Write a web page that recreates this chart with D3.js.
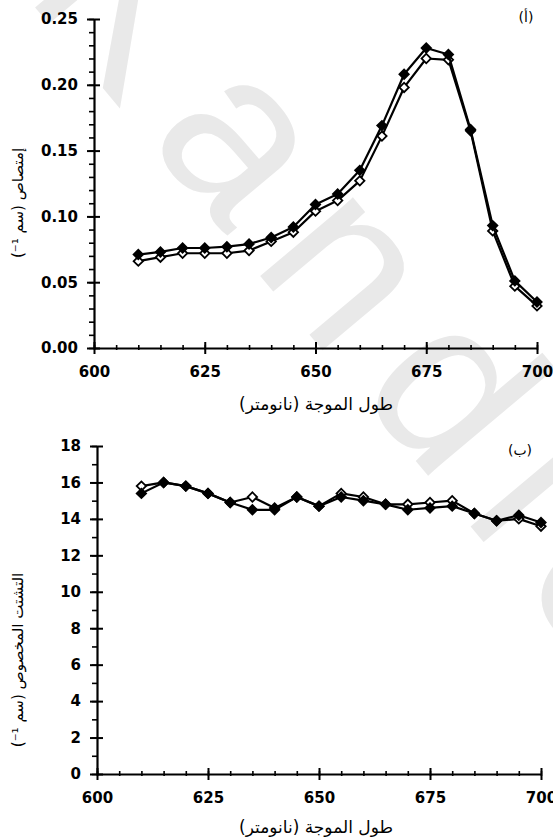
<!DOCTYPE html>
<html>
<head>
<meta charset="utf-8">
<script src="https://cdn.jsdelivr.net/npm/d3@7"></script>
<style>
  body { margin: 0; background: #fff; }
  svg { display: block; }
</style>
</head>
<body>
<svg id="fig" width="553" height="837"></svg>
<script>
// Wavelength of each measurement (nm)
const wavelengths = [610, 615, 620, 625, 630, 635, 640, 645, 650, 655, 660, 665, 670, 675, 680, 685, 690, 695, 700];

// Panel (أ): absorption coefficient (cm^-1)
const absorptionFilled = [0.071, 0.073, 0.076, 0.076, 0.077, 0.079, 0.084, 0.092, 0.109, 0.117, 0.135, 0.169, 0.208, 0.228, 0.223, 0.166, 0.093, 0.051, 0.035];
const absorptionOpen   = [0.066, 0.069, 0.072, 0.072, 0.072, 0.074, 0.081, 0.088, 0.104, 0.112, 0.127, 0.161, 0.198, 0.220, 0.219, 0.165, 0.089, 0.047, 0.032];

// Panel (ب): specific scattering (cm^-1)
const scatteringFilled = [15.4, 16.0, 15.8, 15.4, 14.9, 14.5, 14.5, 15.2, 14.7, 15.2, 15.0, 14.8, 14.5, 14.6, 14.7, 14.3, 13.9, 14.2, 13.8];
const scatteringOpen   = [15.8, 16.0, 15.8, 15.4, 14.9, 15.2, 14.6, 15.2, 14.7, 15.4, 15.2, 14.8, 14.8, 14.9, 15.0, 14.3, 13.9, 14.0, 13.6];

// Axis ticks
const xTicks = [600, 625, 650, 675, 700];
const xMinorTicks = d3.range(600, 701, 5);
const absorptionTicks = [0, 0.05, 0.10, 0.15, 0.20, 0.25];
const absorptionMinorTicks = d3.range(0, 0.2501, 0.01);
const scatteringTicks = [0, 2, 4, 6, 8, 10, 12, 14, 16, 18];
const scatteringMinorTicks = d3.range(0, 18.01, 1);

// Text
const xTitle = "طول الموجة (نانومتر)";
const absorptionTitle = "إمتصاص (سم \u2066\u207B\u00B9\u2069)";
const scatteringTitle = "التشتت المخصوص (سم \u2066\u207B\u00B9\u2069)";
const watermark = "Kandic";

const svg = d3.select("#fig");

// Light background watermark lettering
svg.append("text")
  .attr("transform", "translate(23,-7) rotate(50)")
  .attr("font-family", "Liberation Sans, Arial, sans-serif")
  .attr("font-size", 230)
  .attr("letter-spacing", 36)
  .attr("fill", "#e9e9e9")
  .text(watermark);

const numFont = "DejaVu Sans, Verdana, sans-serif";
const arabicFont = "DejaVu Sans, Noto Sans, sans-serif";

function drawPanel(cfg) {
  const x = d3.scaleLinear().domain([600, 700]).range(cfg.xRange);
  const y = d3.scaleLinear().domain(cfg.yDomain).range(cfg.yRange);
  const g = svg.append("g");

  // minor ticks
  g.append("g")
    .attr("transform", `translate(0,${cfg.yRange[0]})`)
    .call(d3.axisBottom(x).tickValues(xMinorTicks).tickSize(3).tickFormat(""))
    .call(a => a.select(".domain").remove())
    .call(a => a.selectAll(".tick line").attr("y1", -3).attr("y2", 2).attr("stroke-width", 1.6));
  g.append("g")
    .attr("transform", `translate(${cfg.xRange[0]},0)`)
    .call(d3.axisLeft(y).tickValues(cfg.yMinor).tickSize(5).tickFormat(""))
    .call(a => a.select(".domain").remove())
    .call(a => a.selectAll(".tick line").attr("stroke-width", 1.6));

  // major x axis
  g.append("g")
    .attr("transform", `translate(0,${cfg.yRange[0]})`)
    .call(d3.axisBottom(x).tickValues(xTicks).tickSize(6).tickSizeOuter(0).tickPadding(12).tickFormat(d3.format("d")))
    .call(a => a.select(".domain").attr("stroke-width", 2.2))
    .call(a => a.selectAll(".tick line").attr("y1", -6).attr("y2", 6).attr("stroke-width", 2))
    .call(a => a.selectAll(".tick text")
      .attr("font-family", numFont).attr("font-weight", "bold").attr("font-size", 15).attr("fill", "#000"));

  // major y axis
  g.append("g")
    .attr("transform", `translate(${cfg.xRange[0]},0)`)
    .call(d3.axisLeft(y).tickValues(cfg.yTicks).tickSize(7).tickSizeOuter(0).tickPadding(9).tickFormat(cfg.fmt))
    .call(a => a.select(".domain").attr("stroke-width", 2.2))
    .call(a => a.selectAll(".tick line").attr("x1", 6).attr("x2", -7).attr("stroke-width", 2))
    .call(a => a.selectAll(".tick text")
      .attr("font-family", numFont).attr("font-weight", "bold").attr("font-size", 15).attr("fill", "#000"));

  // series
  const line = d3.line().x((d, i) => x(wavelengths[i])).y(d => y(d));
  const marker = d3.symbol().type(d3.symbolSquare).size(44);

  function series(values, fill) {
    g.append("path").datum(values)
      .attr("d", line).attr("fill", "none").attr("stroke", "#000").attr("stroke-width", 2.2)
      .attr("stroke-linejoin", "round");
    g.append("g").selectAll("path").data(values).join("path")
      .attr("d", marker)
      .attr("transform", (d, i) => `translate(${x(wavelengths[i])},${y(d)}) rotate(45)`)
      .attr("fill", fill).attr("stroke", "#000").attr("stroke-width", 1.8);
  }
  series(cfg.open, "#fff");
  series(cfg.filled, "#000");

  // axis titles
  svg.append("text")
    .attr("x", 316).attr("y", cfg.xTitleY)
    .attr("text-anchor", "middle").attr("direction", "rtl")
    .attr("font-family", arabicFont).attr("font-size", 17)
    .text(xTitle);
  svg.append("text")
    .attr("transform", `translate(23,${cfg.yTitleY}) rotate(-90)`)
    .attr("text-anchor", "middle").attr("direction", "rtl")
    .attr("font-family", arabicFont).attr("font-size", 15)
    .text(cfg.yTitle);

  // panel tag
  svg.append("text")
    .attr("x", cfg.tagPos[0]).attr("y", cfg.tagPos[1])
    .attr("text-anchor", "middle").attr("direction", "rtl")
    .attr("font-family", arabicFont).attr("font-size", 14)
    .text(cfg.tag);
}

drawPanel({
  xRange: [94, 537], yRange: [348, 19], yDomain: [0, 0.25],
  yTicks: absorptionTicks, yMinor: absorptionMinorTicks, fmt: d3.format(".2f"),
  filled: absorptionFilled, open: absorptionOpen,
  xTitleY: 410, yTitle: absorptionTitle, yTitleY: 203,
  tag: "(أ)", tagPos: [526, 22]
});

drawPanel({
  xRange: [97, 541], yRange: [774, 446], yDomain: [0, 18],
  yTicks: scatteringTicks, yMinor: scatteringMinorTicks, fmt: d3.format("d"),
  filled: scatteringFilled, open: scatteringOpen,
  xTitleY: 833, yTitle: scatteringTitle, yTitleY: 660,
  tag: "(ب)", tagPos: [520, 455]
});
</script>
</body>
</html>
